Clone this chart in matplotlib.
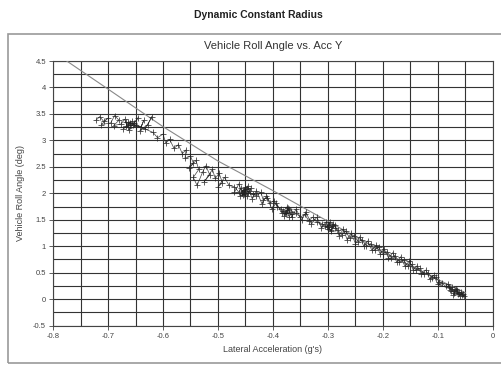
import matplotlib
matplotlib.use('Agg')
import matplotlib.pyplot as plt
import numpy as np
from matplotlib.patches import Rectangle

plt.rcParams['font.family'] = ['Liberation Sans', 'DejaVu Sans']

# measured trace: lateral acceleration (g's) and roll angle (deg)
acc_y = [
    # cluster near -0.69
    -0.722, -0.715, -0.708, -0.700, -0.712, -0.695, -0.688, -0.680, -0.690, -0.676,
    -0.670, -0.664, -0.668, -0.660, -0.672, -0.656, -0.650, -0.662, -0.645, -0.652,
    -0.640, -0.635, -0.642, -0.628, -0.620, -0.632, -0.660, -0.667, -0.655, -0.663,
    # descent towards -0.47
    -0.618, -0.610, -0.600, -0.595, -0.588, -0.580, -0.572, -0.565, -0.558, -0.560,
    -0.550, -0.545, -0.552, -0.540, -0.535, -0.545, -0.538, -0.528, -0.522, -0.515,
    -0.525, -0.510, -0.505, -0.498, -0.492, -0.500, -0.488, -0.480,
    # cluster near -0.45
    -0.470, -0.462, -0.458, -0.452, -0.448, -0.455, -0.445, -0.460, -0.450, -0.442,
    -0.456, -0.447, -0.440, -0.452, -0.436,
    -0.430, -0.422, -0.418, -0.410, -0.405, -0.398, -0.392,
    # cluster near -0.375
    -0.385, -0.378, -0.372, -0.380, -0.368, -0.375, -0.370, -0.382, -0.365, -0.376,
    -0.371,
    -0.358, -0.350, -0.342, -0.335, -0.328, -0.320,
    # cluster near -0.3
    -0.310, -0.302, -0.296, -0.300, -0.292, -0.298, -0.288, -0.305, -0.294, -0.290,
    # descent towards -0.1
    -0.282, -0.275, -0.268, -0.260, -0.252, -0.245, -0.238, -0.230, -0.222, -0.215,
    -0.208, -0.200, -0.192, -0.185, -0.178, -0.170, -0.162, -0.155, -0.148, -0.140,
    -0.132, -0.125, -0.118, -0.110, -0.104, -0.098,
    # cluster near -0.07
    -0.092, -0.086, -0.082, -0.078, -0.074, -0.070, -0.076, -0.066, -0.072, -0.062,
    -0.068, -0.060, -0.064, -0.056, -0.058, -0.052, -0.070, -0.080, -0.066, -0.054,
    # way back up the band
    -0.100, -0.108, -0.115, -0.122, -0.130, -0.138, -0.145, -0.152, -0.160, -0.168,
    -0.175, -0.182, -0.190, -0.198, -0.205, -0.212, -0.220, -0.228, -0.235, -0.242,
    -0.250, -0.258, -0.265, -0.272, -0.280, -0.288, -0.295, -0.303, -0.312, -0.320,
    -0.330, -0.340, -0.348, -0.358, -0.366, -0.374, -0.384, -0.394, -0.402, -0.412,
    -0.420, -0.430, -0.438, -0.446, -0.455, -0.462, -0.470,
]
roll_deg = [
    3.38, 3.45, 3.36, 3.42, 3.30, 3.33, 3.47, 3.38, 3.28, 3.31,
    3.40, 3.26, 3.34, 3.30, 3.22, 3.36, 3.27, 3.20, 3.43, 3.33,
    3.25, 3.38, 3.18, 3.30, 3.45, 3.22, 3.32, 3.28, 3.29, 3.35,
    3.15, 3.05, 3.12, 2.95, 3.02, 2.85, 2.92, 2.75, 2.82, 2.66,
    2.70, 2.58, 2.48, 2.62, 2.45, 2.30, 2.15, 2.40, 2.52, 2.35,
    2.22, 2.45, 2.28, 2.38, 2.20, 2.12, 2.30, 2.15,
    2.12, 2.02, 2.10, 1.98, 2.08, 2.05, 2.00, 1.95, 2.12, 2.04,
    2.00, 1.94, 2.10, 2.06, 1.98,
    1.95, 2.02, 1.88, 1.92, 1.82, 1.86, 1.75,
    1.70, 1.62, 1.72, 1.58, 1.65, 1.68, 1.56, 1.66, 1.60, 1.63,
    1.70,
    1.62, 1.55, 1.60, 1.48, 1.55, 1.45,
    1.42, 1.36, 1.45, 1.32, 1.38, 1.40, 1.34, 1.38, 1.30, 1.42,
    1.30, 1.22, 1.28, 1.15, 1.20, 1.08, 1.12, 1.00, 1.05, 0.93,
    0.98, 0.86, 0.90, 0.78, 0.82, 0.70, 0.74, 0.62, 0.66, 0.55,
    0.58, 0.47, 0.50, 0.40, 0.42, 0.33,
    0.30, 0.24, 0.28, 0.18, 0.22, 0.12, 0.15, 0.18, 0.08, 0.12,
    0.20, 0.06, 0.10, 0.08, 0.14, 0.05, 0.16, 0.22, 0.14, 0.10,
    0.28, 0.45, 0.38, 0.55, 0.48, 0.63, 0.55, 0.72, 0.62, 0.80,
    0.70, 0.88, 0.78, 0.95, 0.85, 1.02, 0.92, 1.10, 1.00, 1.18,
    1.05, 1.25, 1.12, 1.32, 1.20, 1.40, 1.28, 1.46, 1.35, 1.55,
    1.42, 1.64, 1.50, 1.70, 1.55, 1.75, 1.62, 1.82, 1.70, 1.95,
    1.80, 2.05, 1.90, 2.14, 1.96, 2.18, 2.02,
]

# reference line
ref_acc = [-0.775, -0.7, -0.6, -0.5, -0.4, -0.3, -0.2, -0.1, -0.05]
ref_roll = [4.5, 3.97, 3.26, 2.61, 2.05, 1.47, 0.89, 0.37, 0.12]

x_ticks = np.round(np.arange(-0.8, 0.01, 0.1), 1)
y_ticks = np.arange(-0.5, 4.51, 0.5)

fig = plt.figure(figsize=(5.02, 3.66), dpi=100)
ax = fig.add_axes([0.1056, 0.1104, 0.8764, 0.7229])

ax.set_xlim(-0.8, 0)
ax.set_ylim(-0.5, 4.5)
ax.set_xticks(x_ticks)
ax.set_yticks(y_ticks)
ax.set_xticks(np.arange(-0.8, 0.01, 0.05), minor=True)
ax.set_yticks(np.arange(-0.5, 4.51, 0.25), minor=True)
ax.set_xticklabels(['%g' % v if v != 0 else '0' for v in x_ticks])
ax.set_yticklabels(['%g' % v for v in y_ticks])
ax.tick_params(which='major', labelsize=5.5, length=3, width=0.6, colors='#444444', pad=2)
ax.tick_params(which='minor', length=0)
ax.grid(True, which='both', color='#333333', linewidth=0.8)
ax.set_axisbelow(True)
for s in ax.spines.values():
    s.set_color('#444444')
    s.set_linewidth(0.8)

ax.plot(ref_acc, ref_roll, color='#888888', linewidth=0.8, zorder=3)
ax.plot(acc_y, roll_deg, color='#222222', linewidth=0.5, marker='+', markersize=4.5,
        markeredgewidth=0.6, alpha=0.85, zorder=4)

ax.set_xlabel("Lateral Acceleration (g's)", fontsize=6.5, color='#444444', labelpad=4)
ax.set_ylabel('Vehicle Roll Angle (deg)', fontsize=6.5, color='#444444', labelpad=6)
ax.set_title('Vehicle Roll Angle vs. Acc Y', fontsize=8, color='#333333', pad=9)

fig.text(0.514, 0.959, 'Dynamic Constant Radius', ha='center', va='center',
         fontsize=7.5, fontweight='bold', color='#222222')
fig.patches.append(Rectangle((0.016, 0.008), 1.2, 0.899, transform=fig.transFigure,
                             fill=False, edgecolor='#999999', linewidth=1.2))

fig.savefig('out.png', dpi=100)
